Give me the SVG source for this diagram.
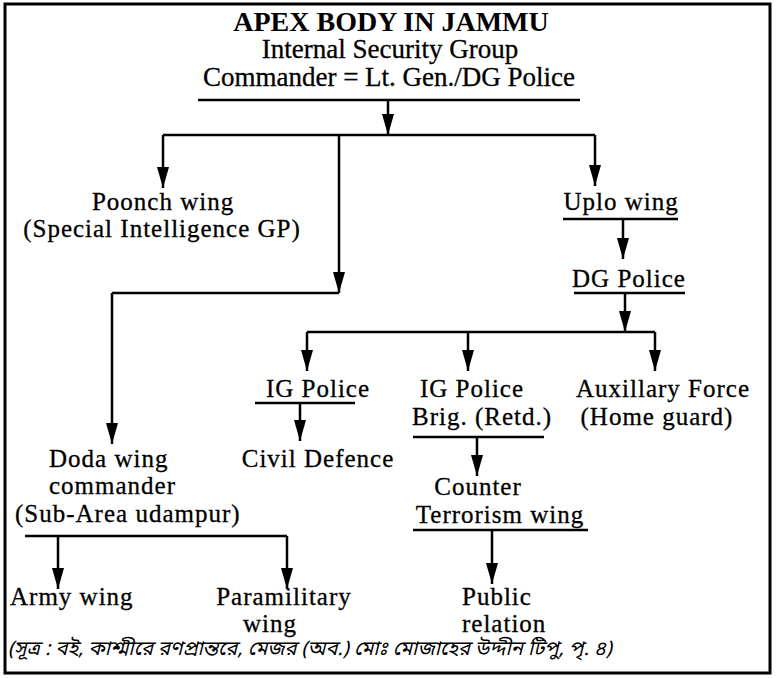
<svg xmlns="http://www.w3.org/2000/svg" width="776" height="678" viewBox="0 0 776 678">
<style>
text{font-family:"Liberation Serif","Times New Roman",serif;fill:#000}
.h{font-size:27px;stroke:#000;stroke-width:0.3}
.t{font-size:28px;font-weight:bold}
.b{font-size:25px;letter-spacing:1px;stroke:#000;stroke-width:0.3}
.m{text-anchor:middle}
.bn{font-family:"Noto Sans Bengali","Noto Serif Bengali","Noto Sans",sans-serif;font-style:italic;font-size:20px}
.ln{stroke:#000;stroke-width:2.5;fill:none}
.ar{stroke:#000;stroke-width:2.5;fill:none;marker-end:url(#ah)}
</style>
<defs>
<marker id="ah" markerUnits="userSpaceOnUse" markerWidth="22" markerHeight="12" refX="21" refY="6" orient="auto">
<path d="M0,0 L21,6 L0,12 Z" fill="#000"/>
</marker>
</defs>
<rect x="5" y="4" width="765" height="669" fill="#fff" stroke="#000" stroke-width="3"/>

<g id="connectors">
<path class="ar" d="M388,100 V135"/>
<path class="ln" d="M163,135 H595"/>
<path class="ar" d="M163,135 V188"/>
<path class="ar" d="M595,135 V186"/>
<path class="ar" d="M339,135 V293"/>
<path class="ln" d="M112,293 H339"/>
<path class="ar" d="M112,293 V444"/>
<path class="ar" d="M623,219 V259"/>
<path class="ar" d="M625,293 V332"/>
<path class="ln" d="M307,332 H655"/>
<path class="ar" d="M307,332 V371"/>
<path class="ar" d="M468,332 V371"/>
<path class="ar" d="M655,332 V371"/>
<path class="ar" d="M300,403 V441"/>
<path class="ar" d="M477,437 V476"/>
<path class="ln" d="M25,536 H287"/>
<path class="ar" d="M58,536 V589"/>
<path class="ar" d="M287,536 V589"/>
<path class="ar" d="M492,530 V584"/>
</g>

<g id="apex">
<text class="t m" x="391" y="31">APEX BODY IN JAMMU</text>
<text class="h m" x="390" y="58">Internal Security Group</text>
<text class="h m" x="389" y="86">Commander = Lt. Gen./DG Police</text>
<path class="ln" d="M198,100 H580"/>
</g>
<g id="poonch">
<text class="b m" x="163" y="210">Poonch wing</text>
<text class="b m" x="162" y="237">(Special Intelligence GP)</text>
</g>
<g id="uplo">
<text class="b m" x="621" y="210">Uplo wing</text>
<path class="ln" d="M563,219 H678"/>
</g>
<g id="dgpolice">
<text class="b m" x="629" y="287">DG Police</text>
<path class="ln" d="M574,293 H685"/>
</g>
<g id="igpolice1">
<text class="b m" x="318" y="397">IG Police</text>
<path class="ln" d="M255,403 H355"/>
</g>
<g id="civildefence">
<text class="b m" x="318" y="467">Civil Defence</text>
</g>
<g id="igpolice2">
<text class="b m" x="472" y="397">IG Police</text>
<text class="b m" x="482" y="425">Brig. (Retd.)</text>
<path class="ln" d="M413,437 H544"/>
</g>
<g id="auxillary">
<text class="b m" x="663" y="397">Auxillary Force</text>
<text class="b m" x="657" y="425">(Home guard)</text>
</g>
<g id="doda">
<text class="b" x="49" y="467">Doda wing</text>
<text class="b" x="49" y="494">commander</text>
<text class="b" x="15" y="522" letter-spacing="1.4">(Sub-Area udampur)</text>
</g>
<g id="counter">
<text class="b m" x="478" y="495">Counter</text>
<text class="b m" x="500" y="523">Terrorism wing</text>
<path class="ln" d="M413,530 H588"/>
</g>
<g id="army">
<text class="b" x="10" y="605" letter-spacing="2">Army wing</text>
</g>
<g id="paramilitary">
<text class="b m" x="284" y="605">Paramilitary</text>
<text class="b m" x="270" y="632">wing</text>
</g>
<g id="public">
<text class="b" x="462" y="605">Public</text>
<text class="b" x="462" y="632">relation</text>
</g>
<text class="bn" x="8" y="655">(সূত্র : বই, কাশ্মীরে রণপ্রান্তরে, মেজর (অব.) মোঃ মোজাহের উদ্দীন টিপু, পৃ. ৪)</text>
</svg>
